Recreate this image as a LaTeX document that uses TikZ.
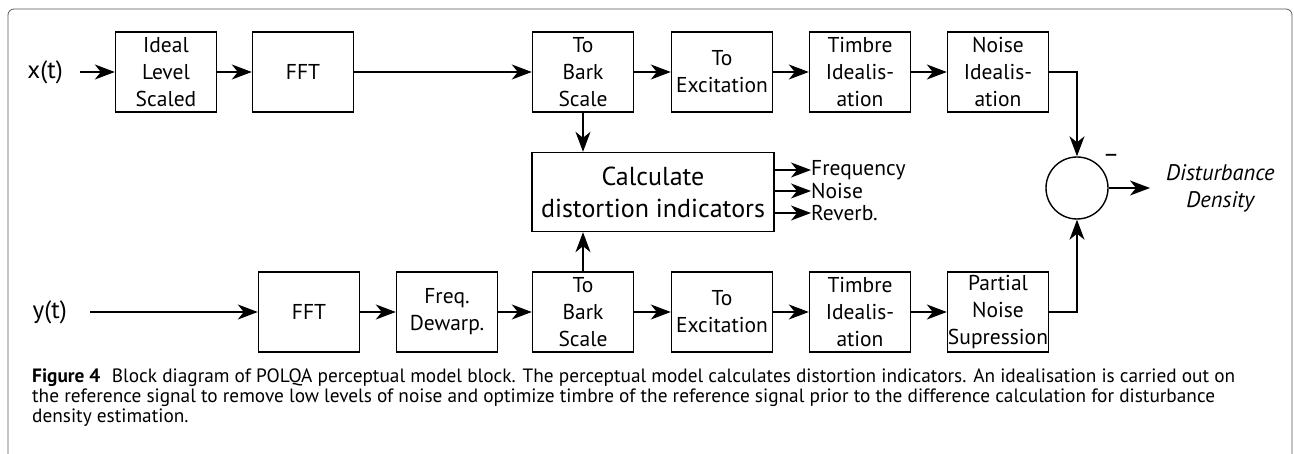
\documentclass[tikz,border=0pt]{standalone}
\usepackage{fontspec}
\setmainfont{PT Sans}
\usetikzlibrary{arrows.meta}
\begin{document}
\begin{tikzpicture}[x=1pt, y=-1pt, >={Stealth[length=20pt, width=15pt, inset=6pt]}]
    \tikzstyle{block} = [draw, line width=1.4pt, minimum width=101pt, minimum height=80pt, inner sep=0pt, align=center, font=\fontsize{21.5}{27}\selectfont]
    \tikzstyle{conn} = [line width=1.3pt]
    \tikzstyle{sig} = [inner ysep=0pt, font=\fontsize{25}{26}\selectfont]
    \tikzstyle{outlabel} = [anchor=west, inner sep=0pt, font=\fontsize{21.5}{20}\selectfont]
    \tikzstyle{frame} = [draw=black!65, line width=0.8pt, rounded corners=6pt]
    \useasboundingbox (0,0) rectangle (1294,454);
    \draw[frame] (8,454) -- (8,9) -- (1292,9) -- (1292,454);

    \node[sig, anchor=east, inner xsep=17pt] (xt) at (80,72) {x(t)};
    \node[block] (lvl) at (166,72) {Ideal\\Level\\Scaled};
    \node[block] (fft1) at (303,72) {FFT};
    \node[block] (bark1) at (583,72) {To\\Bark\\Scale};
    \node[block] (exc1) at (722,72) {To\\Excitation};
    \node[block] (tim1) at (860,72) {Timbre\\Idealis-\\ation};
    \node[block] (nid) at (998,72) {Noise\\Idealis-\\ation};

    \node[sig, anchor=east, inner xsep=23pt] (yt) at (90,312) {y(t)};
    \node[block] (fft2) at (309,312) {FFT};
    \node[block] (dew) at (447,312) {Freq.\\Dewarp.};
    \node[block] (bark2) at (583,312) {To\\Bark\\Scale};
    \node[block] (exc2) at (722,312) {To\\Excitation};
    \node[block] (tim2) at (860,312) {Timbre\\Idealis-\\ation};
    \node[block] (pns) at (998,312) {Partial\\Noise\\Supression};

    \node[block, minimum width=242pt, minimum height=79pt, font=\fontsize{26}{32}\selectfont] (calc) at (653,192) {Calculate\\distortion indicators};
    \node[outlabel] (fq) at (811,170) {Frequency};
    \node[outlabel] (ns) at (811,191) {Noise};
    \node[outlabel] (rv) at (811,213) {Reverb.};

    \node[draw, circle, line width=1.4pt, minimum size=62pt, inner sep=0pt] (sum) at (1077,188) {};
    \node[sig] (minus) at (1111,158) {–};
    \coordinate (dout) at (1150,188);
    \node[anchor=west, align=center, inner sep=0pt, font=\fontsize{22.5}{27}\itshape] (dd) at (1166,188) {Disturbance\\Density};

    \draw[conn, ->] (xt.east) -- (lvl.west);
    \draw[conn, ->] (lvl.east) -- (fft1.west);
    \draw[conn, ->] (fft1.east) -- (bark1.west);
    \draw[conn, ->] (bark1.east) -- (exc1.west);
    \draw[conn, ->] (exc1.east) -- (tim1.west);
    \draw[conn, ->] (tim1.east) -- (nid.west);
    \draw[conn, ->] (nid.east) -| (sum.north);

    \draw[conn, ->] (yt.east) -- (fft2.west);
    \draw[conn, ->] (fft2.east) -- (dew.west);
    \draw[conn, ->] (dew.east) -- (bark2.west);
    \draw[conn, ->] (bark2.east) -- (exc2.west);
    \draw[conn, ->] (exc2.east) -- (tim2.west);
    \draw[conn, ->] (tim2.east) -- (pns.west);
    \draw[conn, ->] (pns.east) -| (sum.south);

    \draw[conn, ->] (bark1.south) -- (bark1.south |- calc.north);
    \draw[conn, ->] (bark2.north) -- (bark2.north |- calc.south);
    \draw[conn, ->] (calc.east |- fq.west) -- (fq.west);
    \draw[conn, ->] (calc.east |- ns.west) -- (ns.west);
    \draw[conn, ->] (calc.east |- rv.west) -- (rv.west);
    \draw[conn, ->] (sum.east) -- (dout);

    \node[anchor=north west, align=left, inner sep=0pt, font=\fontsize{19.3}{20}\selectfont] (cap) at (32,369) {\textbf{Figure 4}\hspace{0.6em}Block diagram of POLQA perceptual model block. The perceptual model calculates distortion indicators. An idealisation is carried out on\\the reference signal to remove low levels of noise and optimize timbre of the reference signal prior to the difference calculation for disturbance\\density estimation.};
\end{tikzpicture}
\end{document}
